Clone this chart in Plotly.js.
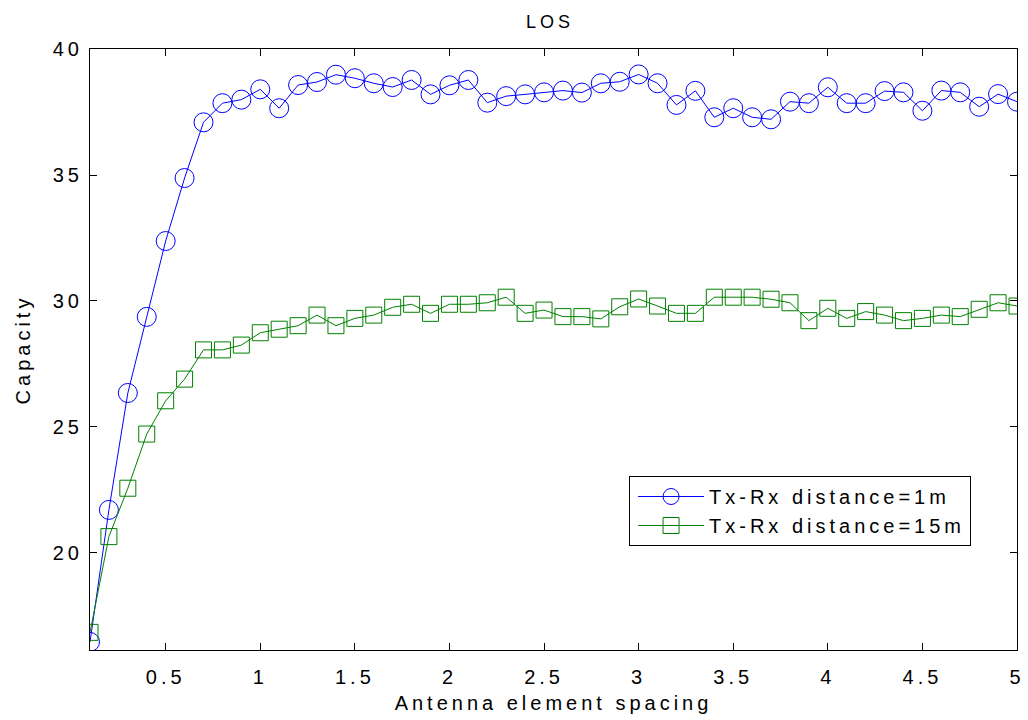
<!DOCTYPE html>
<html>
<head>
<meta charset="utf-8">
<script src="https://cdn.plot.ly/plotly-3.0.1.min.js"></script>
<style>
  html, body { margin: 0; padding: 0; background: #fff; }
  #chart { width: 1028px; height: 720px; }
  svg text { letter-spacing: 4px; }
</style>
</head>
<body>
<div id="chart"></div>
<script>
// Antenna element spacing (x), 0.1 .. 5.0
const spacing = [0.1,0.2,0.3,0.4,0.5,0.6,0.7,0.8,0.9,1.0,
                 1.1,1.2,1.3,1.4,1.5,1.6,1.7,1.8,1.9,2.0,
                 2.1,2.2,2.3,2.4,2.5,2.6,2.7,2.8,2.9,3.0,
                 3.1,3.2,3.3,3.4,3.5,3.6,3.7,3.8,3.9,4.0,
                 4.1,4.2,4.3,4.4,4.5,4.6,4.7,4.8,4.9,5.0];

// Capacity, Tx-Rx distance = 1 m
const capacity1m = [16.47,21.71,26.35,29.37,32.38,34.88,37.09,37.85,37.99,38.40,
                    37.65,38.57,38.69,38.98,38.84,38.64,38.49,38.77,38.20,38.56,
                    38.77,37.87,38.13,38.20,38.28,38.35,38.27,38.64,38.70,38.99,
                    38.64,37.78,38.34,37.29,37.65,37.29,37.21,37.91,37.85,38.48,
                    37.85,37.85,38.33,38.28,37.55,38.35,38.28,37.71,38.21,37.91];

// Capacity, Tx-Rx distance = 15 m
const capacity15m = [16.85,20.65,22.57,24.72,26.04,26.90,28.06,28.06,28.25,28.74,
                     28.88,29.02,29.44,29.02,29.31,29.44,29.75,29.87,29.51,29.87,
                     29.87,29.93,30.15,29.51,29.64,29.38,29.38,29.29,29.77,30.08,
                     29.80,29.51,29.51,30.15,30.15,30.15,30.07,29.93,29.22,29.71,
                     29.31,29.58,29.44,29.22,29.31,29.44,29.38,29.67,29.93,29.80];

const seriesNames = ['Tx-Rx distance=1m', 'Tx-Rx distance=15m'];
const xTicks = [0.5,1,1.5,2,2.5,3,3.5,4,4.5,5];
const xTickText = ['0.5','1','1.5','2','2.5','3','3.5','4','4.5','5'];
const yTicks = [20,25,30,35,40];

const FONT = 'Liberation Sans, Arial, Helvetica, sans-serif';

const traces = [
  {
    x: spacing, y: capacity1m, name: seriesNames[0],
    type: 'scatter', mode: 'lines+markers',
    line: {color: '#0000ff', width: 1},
    marker: {symbol: 'circle-open', size: 19, color: '#0000ff', line: {width: 1, color: '#0000ff'}}
  },
  {
    x: spacing, y: capacity15m, name: seriesNames[1],
    type: 'scatter', mode: 'lines+markers',
    line: {color: '#008000', width: 1},
    marker: {symbol: 'square-open', size: 16, color: '#008000', line: {width: 1, color: '#008000'}}
  }
];

const axisCommon = {
  showline: true, linecolor: '#000', linewidth: 1, mirror: 'ticks',
  ticks: 'inside', ticklen: 7, tickwidth: 1, tickcolor: '#000',
  showgrid: false, zeroline: false,
  tickfont: {family: FONT, size: 20, color: '#000'}
};

const layout = {
  width: 1028, height: 720,
  paper_bgcolor: '#fff', plot_bgcolor: '#fff',
  margin: {l: 90, r: 11, t: 49, b: 70},
  title: {text: 'LOS', x: 0.535, xanchor: 'center', y: 0.97, yanchor: 'middle',
          font: {family: FONT, size: 18, color: '#000'}},
  xaxis: Object.assign({}, axisCommon, {
    range: [0.1, 5], tickvals: xTicks, ticktext: xTickText,
    ticklabelstandoff: 9,
    title: {text: 'Antenna element spacing', standoff: 8, font: {family: FONT, size: 20, color: '#000'}}
  }),
  yaxis: Object.assign({}, axisCommon, {
    range: [16.15, 40], tickvals: yTicks,
    ticklabelstandoff: 2,
    title: {text: 'Capacity', standoff: 16, font: {family: FONT, size: 20, color: '#000'}}
  }),
  showlegend: true,
  legend: {
    x: 0.5815, xanchor: 'left', y: 0.2895, yanchor: 'top',
    bgcolor: '#fff', bordercolor: '#000', borderwidth: 1,
    font: {family: FONT, size: 20, color: '#000'},
    itemwidth: 66, indentation: 3
  }
};

Plotly.newPlot('chart', traces, layout, {displayModeBar: false, staticPlot: true});
</script>
</body>
</html>
